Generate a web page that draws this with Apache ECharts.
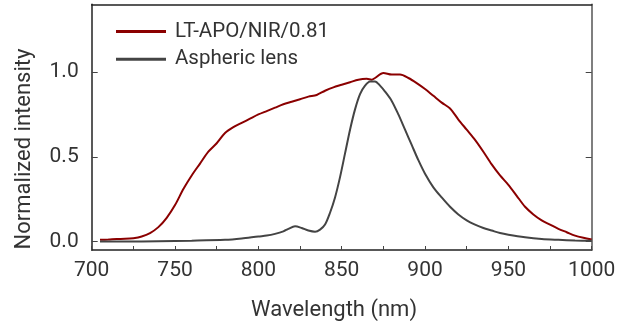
<!DOCTYPE html>
<html>
<head>
<meta charset="utf-8">
<script src="https://cdn.jsdelivr.net/npm/echarts@6/dist/echarts.min.js"></script>
<style>html,body{margin:0;padding:0;background:#fff}#c{width:634px;height:322px}</style>
</head>
<body>
<div id="c"></div>
<script>
const seriesNames = ['LT-APO/NIR/0.81', 'Aspheric lens'];
const redWavelength = [705,710,715,720,725,730,735,740,745,750,755,760,765,770,775,780,785,790,795,800,805,810,815,820,825,830,835,840,845,850,855,860,865,868,870,875,880,885,890,895,900,905,910,915,920,925,930,935,940,945,950,955,960,965,970,975,980,985,990,995,1000];
const redValues = [0.01,0.012,0.015,0.016,0.02,0.03,0.05,0.085,0.14,0.215,0.31,0.39,0.46,0.53,0.58,0.64,0.675,0.70,0.725,0.75,0.77,0.79,0.81,0.825,0.84,0.855,0.865,0.89,0.91,0.925,0.94,0.955,0.96,0.955,0.965,0.995,0.985,0.985,0.965,0.935,0.90,0.86,0.82,0.785,0.72,0.66,0.60,0.53,0.455,0.39,0.335,0.27,0.205,0.16,0.125,0.10,0.075,0.055,0.035,0.022,0.012];
const grayWavelength = [705,720,740,760,780,790,800,805,810,815,818,822,826,830,834,837,840,843,846,849,852,855,858,861,864,867,870,873,876,880,884,888,892,896,900,905,910,915,920,925,930,935,940,945,950,960,970,980,990,1000];
const grayValues = [0.0,0.0,0.002,0.005,0.01,0.018,0.03,0.035,0.045,0.06,0.075,0.09,0.08,0.065,0.058,0.07,0.1,0.17,0.26,0.38,0.52,0.66,0.78,0.87,0.92,0.945,0.945,0.92,0.885,0.83,0.75,0.66,0.57,0.48,0.40,0.32,0.26,0.205,0.16,0.125,0.10,0.08,0.065,0.05,0.04,0.025,0.015,0.01,0.006,0.004];
const yTickValues = [0, 0.5, 1.0];
const xTitle = 'Wavelength (nm)';
const yTitle = 'Normalized intensity';

const pair = (xs, ys) => xs.map((x, i) => [x, ys[i]]);
const FONT = 'Roboto';
const TXT = '#333';
const chart = echarts.init(document.getElementById('c'), null, {renderer: 'canvas'});
chart.setOption({
  animation: false,
  backgroundColor: '#fff',
  grid: {left: 91.7, right: 42.3, top: 4.3, bottom: 72, show: false},
  legend: {
    orient: 'vertical', left: 116, top: 21, padding: 0,
    icon: 'rect', itemWidth: 50, itemHeight: 3, itemGap: 6.7,
    textStyle: {fontFamily: FONT, fontSize: 20.5, color: TXT, lineHeight: 20, padding: [0, 0, 0, 4]},
    data: seriesNames
  },
  xAxis: [{
    type: 'value', min: 700, max: 1000, interval: 50,
    axisLine: {show: true, onZero: false, lineStyle: {color: '#222', width: 1.5}},
    axisTick: {show: true, inside: true, length: 4, lineStyle: {color: '#444'}},
    minorTick: {show: true, splitNumber: 2, length: 4, lineStyle: {color: '#444'}},
    splitLine: {show: false},
    axisLabel: {fontFamily: FONT, fontSize: 21, color: TXT, margin: 10, formatter: v => String(v)}
  }, {
    type: 'value', position: 'top', min: 700, max: 1000,
    axisLine: {show: true, onZero: false, lineStyle: {color: '#222', width: 1.5}},
    axisTick: {show: false}, axisLabel: {show: false}, splitLine: {show: false}
  }],
  yAxis: [{
    type: 'value', min: -0.05, max: 1.4,
    axisLine: {show: true, onZero: false, lineStyle: {color: '#222', width: 1.5}},
    axisTick: {show: true, inside: true, length: 6, customValues: yTickValues, lineStyle: {color: '#444'}},
    splitLine: {show: false},
    axisLabel: {fontFamily: FONT, fontSize: 21, color: TXT, margin: 13, customValues: yTickValues,
      formatter: v => v.toFixed(1)}
  }, {
    type: 'value', position: 'right', min: -0.05, max: 1.4,
    axisLine: {show: true, onZero: false, lineStyle: {color: '#555', width: 1.5}},
    axisTick: {show: true, inside: true, length: 6, customValues: yTickValues, lineStyle: {color: '#444'}},
    axisLabel: {show: false}, splitLine: {show: false}
  }],
  graphic: [
    {type: 'text', x: 334, y: 310, style: {text: xTitle, font: '22px Roboto', fill: TXT, align: 'center', verticalAlign: 'middle'}},
    {type: 'text', x: 24, y: 149, rotation: Math.PI / 2, style: {text: yTitle, font: '22px Roboto', fill: TXT, align: 'center', verticalAlign: 'middle'}}
  ],
  series: [{
    name: seriesNames[0], type: 'line', data: pair(redWavelength, redValues),
    showSymbol: false, smooth: 0.3, color: '#8b0000', lineStyle: {width: 2, color: '#8b0000'}, z: 2
  }, {
    name: seriesNames[1], type: 'line', data: pair(grayWavelength, grayValues),
    showSymbol: false, smooth: 0.3, color: '#444', lineStyle: {width: 2, color: '#444'}, z: 3
  }]
});
</script>
</body>
</html>
